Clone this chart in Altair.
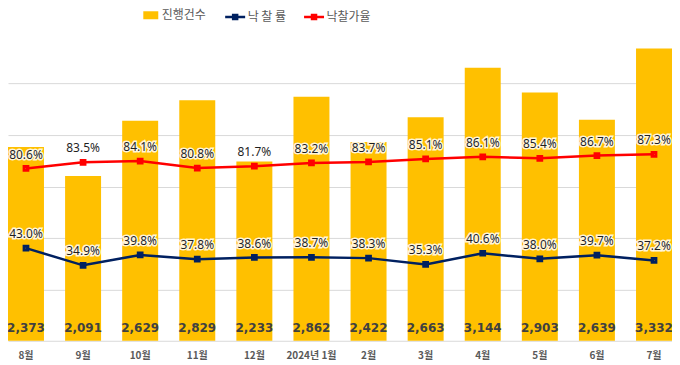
import altair as alt
import pandas as pd

months = ['8월', '9월', '10월', '11월', '12월', '2024년 1월', '2월', '3월', '4월', '5월', '6월', '7월']
counts = [2373, 2091, 2629, 2829, 2233, 2862, 2422, 2663, 3144, 2903, 2639, 3332]
bid_rate = [43.0, 34.9, 39.8, 37.8, 38.6, 38.7, 38.3, 35.3, 40.6, 38.0, 39.7, 37.2]
price_rate = [80.6, 83.5, 84.1, 80.8, 81.7, 83.2, 83.7, 85.1, 86.1, 85.4, 86.7, 87.3]
bar_series = ['진행건수']
bar_colors = ['#FFC000']
line_series = ['낙찰률', '낙찰가율']
line_colors = ['#002060', '#FF0000']

bars_df = pd.DataFrame({'month': months, 'count': counts, 'series': bar_series * len(months)})
lines_df = pd.DataFrame({
    'month': months * 2,
    'series': [line_series[0]] * len(months) + [line_series[1]] * len(months),
    'value': bid_rate + price_rate,
})

x = alt.X('month:N', sort=months,
          scale=alt.Scale(paddingInner=0.37, paddingOuter=0),
          axis=alt.Axis(title=None, labelAngle=0, ticks=False, domainColor='#D9D9D9',
                        labelColor='#595959', labelFont='Noto Sans CJK KR', labelFontSize=10,
                        labelFontWeight='bold', labelPadding=10))

legend_common = dict(
    title=None, orient='none', direction='horizontal',
    labelFont='Noto Sans CJK KR', labelFontSize=12, labelColor='#595959',
    symbolSize=400, labelOffset=1, columnPadding=12, labelLimit=200,
)
fill_legend = alt.Legend(legendX=133, legendY=-27, symbolType='M-0.75,-0.4H0.75V0.4H-0.75Z',
                         symbolStrokeWidth=0, **legend_common)
stroke_legend = alt.Legend(legendX=216, legendY=-27,
                           symbolType='M-1,0H1M-0.2,-0.2H0.2V0.2H-0.2Z',
                           symbolStrokeWidth=2.5,
                           labelExpr="datum.value == '낙찰률' ? '낙 찰 률' : datum.value",
                           **legend_common)

count_scale = alt.Scale(domain=[490, 3490], nice=False, zero=False)
bars = alt.Chart(bars_df).mark_bar().encode(
    x=x,
    y=alt.Y('count:Q', scale=count_scale,
            axis=alt.Axis(title=None, labels=False, ticks=False, domain=False,
                          values=[990, 1490, 1990, 2490, 2990], gridColor='#D9D9D9')),
    y2=alt.datum(490),
    fill=alt.Fill('series:N', scale=alt.Scale(domain=bar_series, range=bar_colors), legend=fill_legend),
)
bar_text = alt.Chart(bars_df).mark_text(
    baseline='middle', dy=-13, font='DejaVu Sans', fontWeight='bold', fontSize=12, color='#404040'
).encode(
    x=x,
    y=alt.datum(490),
    text=alt.Text('count:Q', format=','),
)
bar_layer = alt.layer(bars, bar_text)

stroke = alt.Stroke('series:N', scale=alt.Scale(domain=line_series, range=line_colors), legend=stroke_legend)
rate_y = alt.Y('value:Q', scale=alt.Scale(domain=[-0.7, 144.9], nice=False, zero=False), axis=None)
base = alt.Chart(lines_df).encode(x=x, y=rate_y)
lines = base.mark_line(strokeWidth=2.5).encode(stroke=stroke)
points = base.mark_point(shape='square', filled=False, size=14, strokeWidth=3, opacity=1).encode(stroke=stroke)
label_base = base.transform_calculate(lbl="format(datum.value, '.1f') + '%'")
halo = label_base.mark_text(baseline='middle', dy=-14, font='Noto Sans', fontSize=12,
                            color='white', stroke='white', strokeWidth=3, strokeOpacity=0.85
                            ).encode(text='lbl:N')
labels = label_base.mark_text(baseline='middle', dy=-14, font='Noto Sans', fontSize=12,
                              color='#1F1F1F').encode(text='lbl:N')
line_layer = alt.layer(lines, points, halo, labels)

chart = alt.layer(bar_layer, line_layer).resolve_scale(y='independent').properties(
    width=665, height=309,
    autosize=alt.AutoSizeParams(type='none'),
    padding={'left': 0, 'top': 24, 'right': 0, 'bottom': 24},
    background='white',
).configure_view(stroke=None)

chart.save('out.html', embed_options={'renderer': 'svg', 'actions': False})
